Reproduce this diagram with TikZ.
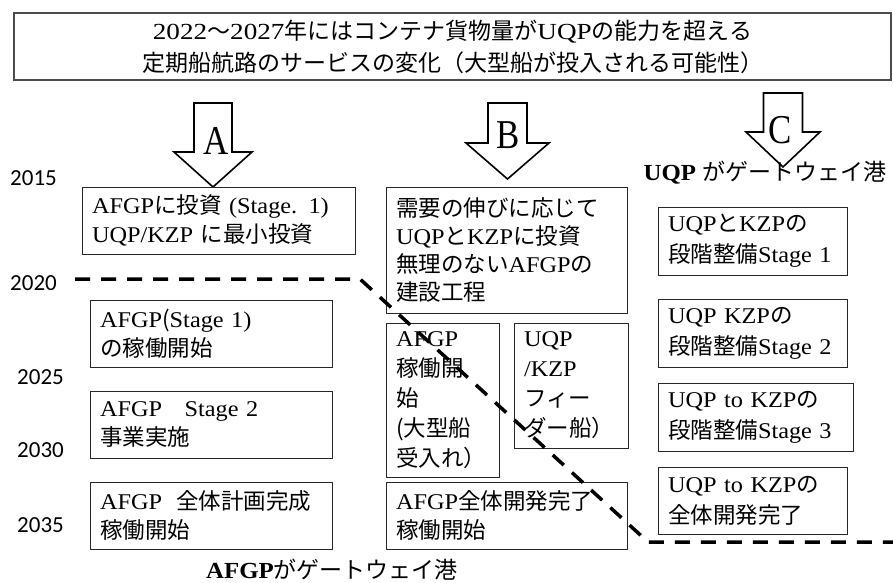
\documentclass[tikz,border=0pt]{standalone}
\usepackage{fontspec}
\setmainfont{Liberation Serif}[FakeStretch=1.08]
\newfontfamily\jpf{Noto Sans CJK JP}
\newfontfamily\yrf{Carlito}
\newfontfamily\letf{Liberation Serif}[FakeStretch=0.85]
\newcommand\jt[1]{{\jpf #1}}
\begin{document}
\begin{tikzpicture}[x=1pt,y=-1pt,
  box/.style={draw=black!85, line width=0.9pt, align=left, inner xsep=10pt, inner ysep=0pt,
    font=\fontsize{22.5}{29}\selectfont},
  topbox/.style={draw=black!70, line width=1.2pt, align=center, inner sep=0pt,
    font=\fontsize{23}{32}\selectfont},
  yr/.style={anchor=west, inner sep=0pt, font=\yrf\fontsize{23}{26}\selectfont},
  lab/.style={inner sep=0pt, font=\fontsize{23}{26}\selectfont},
  letter/.style={inner sep=0pt, font=\letf\fontsize{41}{41}\selectfont},
  blockarrow/.style={draw=black, fill=white, line width=1.6pt, line join=miter},
  timeline/.style={draw=black, line width=3.5pt, dash pattern=on 15pt off 11pt}]
\useasboundingbox (0,0) rectangle (893,582);
\fill[white] (0,0) rectangle (893,582);

% header
\node[topbox, minimum width=877, minimum height=67] (head) at (452.5,46.5)
  {\fontspec{Liberation Serif}[FakeStretch=1.18]2022\jt{〜}2027\jt{年にはコンテナ貨物量が}UQP\jt{の能力を超える}\\
   \jt{定期船航路のサービスの変化（大型船が投入される可能性）}};

% block arrows
\draw[blockarrow] (194,103) -- (232,103) -- (232,152) -- (252,152) -- (213,187)
  -- (174,152) -- (194,152) -- cycle;
\node[letter] (la) at (216,141) {A};
\draw[blockarrow] (488,103) -- (527,103) -- (527,143) -- (549,143) -- (507.5,179)
  -- (466,143) -- (488,143) -- cycle;
\node[letter] (lb) at (508,135) {B};
\draw[blockarrow] (763.5,93) -- (802.5,93) -- (802.5,132) -- (820,132) -- (783,167)
  -- (746,132) -- (763.5,132) -- cycle;
\node[letter] (lc) at (780,130) {C};

% years
\node[yr] (y15) at (10,178) {2015};
\node[yr] (y20) at (10,283) {2020};
\node[yr] (y25) at (17,377) {2025};
\node[yr] (y30) at (17,450) {2030};
\node[yr] (y35) at (17,525) {2035};

% column A
\node[box, text width=253, minimum height=67] (bA1) at (218.5,220.5)
  {AFGP\jt{に投資} (Stage. 1)\\UQP/KZP \jt{に最小投資}};
\node[box, text width=222, minimum height=67] (bA2) at (211,333.5)
  {AFGP\jt{(}Stage~1)\\\jt{の稼働開始}};
\node[box, text width=222, minimum height=67] (bA3) at (211,424.5)
  {AFGP\jt{　}Stage~2\\\jt{事業実施}};
\node[box, text width=222, minimum height=67] (bA4) at (211,515.5)
  {AFGP\hspace{14pt}\jt{全体計画完成}\\\jt{稼働開始}};

% column B
\node[box, text width=221, minimum height=126, font=\fontsize{22.5}{28}\selectfont] (bB1) at (506.5,250)
  {\jt{需要の伸びに応じて}\\UQP\jt{と}KZP\jt{に投資}\\\jt{無理のない}AFGP\jt{の}\\\jt{建設工程}};
\node[box, text width=93, minimum height=154, font=\fontsize{22.5}{30}\selectfont] (bB2) at (442.5,400)
  {AFGP\\\jt{稼働開}\\\jt{始}\\\jt{(大型船}\\\jt{受入れ）}};
\node[box, text width=94, minimum height=125, font=\fontsize{22.5}{30}\selectfont] (bB3) at (571,385.5)
  {UQP\\/KZP\\\jt{フィー}\\\jt{ダー船）}};
\node[box, text width=221, minimum height=67] (bB4) at (506.5,515.5)
  {AFGP\jt{全体開発完了}\\\jt{稼働開始}};

% column C
\node[lab] (lC) at (765,173) {\textbf{UQP} \jt{がゲートウェイ港}};
\node[box, text width=169, minimum height=68, font=\fontsize{22.5}{31}\selectfont] (bC1) at (752.5,241)
  {UQP\jt{と}KZP\jt{の}\\\jt{段階整備}Stage~1};
\node[box, text width=169, minimum height=68, font=\fontsize{22.5}{31}\selectfont] (bC2) at (752.5,333)
  {UQP KZP\jt{の}\\\jt{段階整備}Stage~2};
\node[box, text width=175, minimum height=68, font=\fontsize{22.5}{31}\selectfont] (bC3) at (755.5,417)
  {UQP to KZP\jt{の}\\\jt{段階整備}Stage~3};
\node[box, text width=169, minimum height=67, font=\fontsize{22.5}{31}\selectfont] (bC4) at (752.5,500.5)
  {UQP to KZP\jt{の}\\\jt{全体開発完了}};

% bottom label
\node[lab] (lA) at (332,570) {\textbf{AFGP}\jt{がゲートウェイ港}};

% time boundary
\coordinate (d0) at (75,279);
\coordinate (d1) at (360,279);
\coordinate (d2) at (648,542);
\coordinate (d3) at (893,542);
\draw[timeline] (d0) -- (d1) -- (d2) -- (d3);
\end{tikzpicture}
\end{document}
